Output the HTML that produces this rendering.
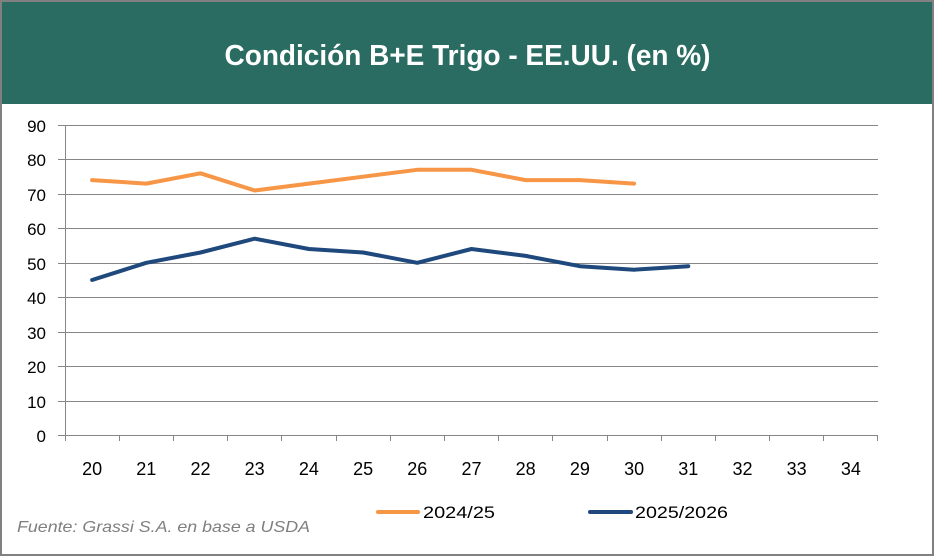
<!DOCTYPE html>
<html><head><meta charset="utf-8"><style>
html,body{margin:0;padding:0;background:#fff;}
svg{display:block;}
text{font-family:"Liberation Sans",sans-serif;}
</style></head><body>
<svg width="935" height="557" viewBox="0 0 935 557" xmlns="http://www.w3.org/2000/svg">
<rect x="0" y="0" width="935" height="557" fill="#fff"/>
<rect x="2" y="2" width="931" height="102" fill="#2a6c61"/>
<rect x="1" y="1" width="932" height="554" fill="none" stroke="#808080" stroke-width="2"/>
<text x="467.5" y="65" text-anchor="middle" font-size="29" font-weight="bold" fill="#fff" textLength="486" lengthAdjust="spacingAndGlyphs">Condición B+E Trigo - EE.UU. (en %)</text>
<g stroke="#868686" stroke-width="1" shape-rendering="crispEdges">
<line x1="58" y1="125.5" x2="878" y2="125.5"/>
<line x1="58" y1="159.5" x2="878" y2="159.5"/>
<line x1="58" y1="194.5" x2="878" y2="194.5"/>
<line x1="58" y1="228.5" x2="878" y2="228.5"/>
<line x1="58" y1="263.5" x2="878" y2="263.5"/>
<line x1="58" y1="297.5" x2="878" y2="297.5"/>
<line x1="58" y1="332.5" x2="878" y2="332.5"/>
<line x1="58" y1="366.5" x2="878" y2="366.5"/>
<line x1="58" y1="401.5" x2="878" y2="401.5"/>
<line x1="58" y1="435.5" x2="878" y2="435.5"/>
<line x1="65.5" y1="125" x2="65.5" y2="441"/>
<line x1="119.5" y1="435" x2="119.5" y2="441"/>
<line x1="173.5" y1="435" x2="173.5" y2="441"/>
<line x1="227.5" y1="435" x2="227.5" y2="441"/>
<line x1="281.5" y1="435" x2="281.5" y2="441"/>
<line x1="336.5" y1="435" x2="336.5" y2="441"/>
<line x1="390.5" y1="435" x2="390.5" y2="441"/>
<line x1="444.5" y1="435" x2="444.5" y2="441"/>
<line x1="498.5" y1="435" x2="498.5" y2="441"/>
<line x1="552.5" y1="435" x2="552.5" y2="441"/>
<line x1="607.5" y1="435" x2="607.5" y2="441"/>
<line x1="661.5" y1="435" x2="661.5" y2="441"/>
<line x1="715.5" y1="435" x2="715.5" y2="441"/>
<line x1="769.5" y1="435" x2="769.5" y2="441"/>
<line x1="823.5" y1="435" x2="823.5" y2="441"/>
<line x1="877.5" y1="435" x2="877.5" y2="441"/>
</g>
<g font-size="17" fill="#000" text-anchor="end">
<text x="46" y="132">90</text>
<text x="46" y="166">80</text>
<text x="46" y="201">70</text>
<text x="46" y="235">60</text>
<text x="46" y="270">50</text>
<text x="46" y="304">40</text>
<text x="46" y="339">30</text>
<text x="46" y="373">20</text>
<text x="46" y="408">10</text>
<text x="46" y="442">0</text>
</g>
<g font-size="18" fill="#000" text-anchor="middle">
<text x="92.1" y="475">20</text>
<text x="146.3" y="475">21</text>
<text x="200.5" y="475">22</text>
<text x="254.7" y="475">23</text>
<text x="308.9" y="475">24</text>
<text x="363.1" y="475">25</text>
<text x="417.3" y="475">26</text>
<text x="471.5" y="475">27</text>
<text x="525.7" y="475">28</text>
<text x="579.9" y="475">29</text>
<text x="634.1" y="475">30</text>
<text x="688.3" y="475">31</text>
<text x="742.5" y="475">32</text>
<text x="796.7" y="475">33</text>
<text x="850.9" y="475">34</text>
</g>
<polyline fill="none" stroke="#f79646" stroke-width="4" stroke-linejoin="round" stroke-linecap="round"
points="92.1,180.1 146.3,183.6 200.5,173.3 254.7,190.5 308.9,183.6 363.1,176.7 417.3,169.8 471.5,169.8 525.7,180.1 579.9,180.1 634.1,183.6"/>
<polyline fill="none" stroke="#1f497d" stroke-width="4" stroke-linejoin="round" stroke-linecap="round"
points="92.1,280.0 146.3,262.8 200.5,252.5 254.7,238.7 308.9,249.0 363.1,252.5 417.3,262.8 471.5,249.0 525.7,255.9 579.9,266.2 634.1,269.7 688.3,266.2"/>
<line x1="378" y1="512" x2="418" y2="512" stroke="#f79646" stroke-width="4" stroke-linecap="round"/>
<text x="423" y="518" font-size="17" fill="#000" textLength="72" lengthAdjust="spacingAndGlyphs">2024/25</text>
<line x1="590" y1="512" x2="631" y2="512" stroke="#1f497d" stroke-width="4" stroke-linecap="round"/>
<text x="635" y="518" font-size="17" fill="#000" textLength="93" lengthAdjust="spacingAndGlyphs">2025/2026</text>
<text x="17" y="532" font-size="16" font-style="italic" fill="#7f7f7f" textLength="293" lengthAdjust="spacingAndGlyphs">Fuente: Grassi S.A. en base a USDA</text>
</svg>
</body></html>
